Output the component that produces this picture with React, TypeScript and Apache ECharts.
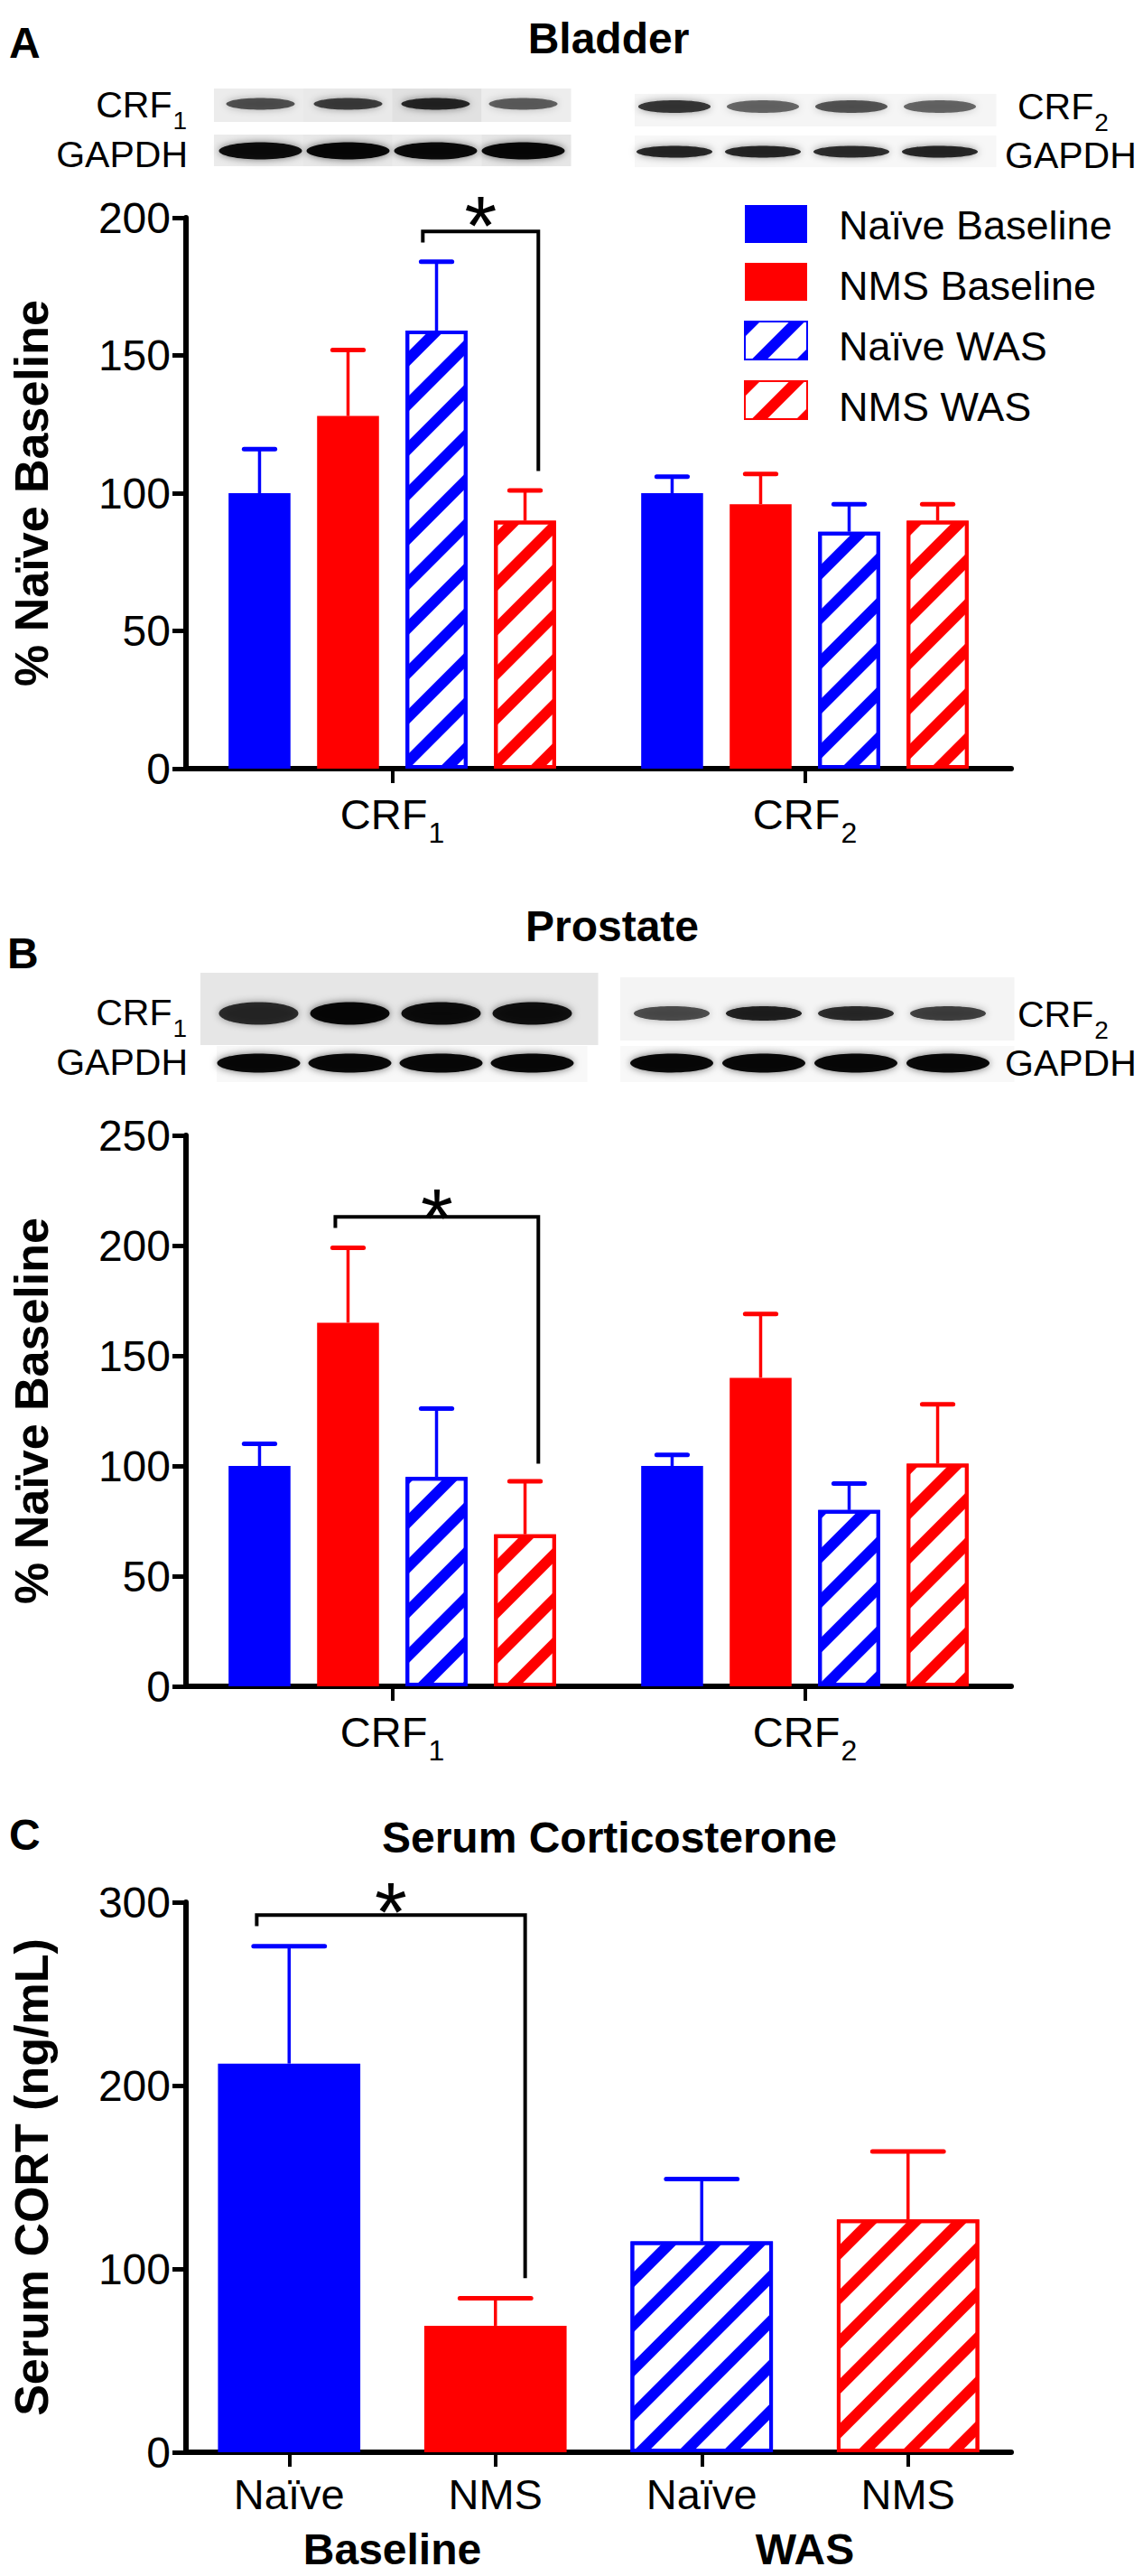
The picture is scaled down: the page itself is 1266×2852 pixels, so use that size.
import React, { useEffect, useRef } from "react";
import * as echarts from "echarts";

const FONT = "'Liberation Sans', Arial, Helvetica, sans-serif";
const BLUE = "#0000ff";
const RED = "#ff0000";

// ---------- data ----------
const groupNames = ["Naïve Baseline", "NMS Baseline", "Naïve WAS", "NMS WAS"];
const receptorCategories = ["CRF1", "CRF2"];

const bladderNaiveBaseline = [100, 100];
const bladderNmsBaseline = [128, 96];
const bladderNaiveWas = [159, 86];
const bladderNmsWas = [90, 90];
const bladderNaiveBaselineErr = [16, 6];
const bladderNmsBaselineErr = [24, 11];
const bladderNaiveWasErr = [25, 10];
const bladderNmsWasErr = [11, 6];

const prostateNaiveBaseline = [100, 100];
const prostateNmsBaseline = [165, 140];
const prostateNaiveWas = [95, 80];
const prostateNmsWas = [69, 101];
const prostateNaiveBaselineErr = [10, 5];
const prostateNmsBaselineErr = [34, 29];
const prostateNaiveWasErr = [31, 12];
const prostateNmsWasErr = [24, 27];

const serumCategories = ["Naïve", "NMS", "Naïve", "NMS"];
const serumGroups = ["Baseline", "WAS"];
const serumMean = [212, 69, 115, 127];
const serumErr = [64, 15, 34, 37];

// axis ranges: [min, max, interval]
const bladderAxis = [0, 200, 50];
const prostateAxis = [0, 250, 50];
const serumAxis = [0, 300, 100];

// significance brackets: [left x, right x (category units from first category), top, left end, right end, star]
const bladderBracket = [0.074, 0.354, 195, 191, 108, 204];
const prostateBracket = [-0.138, 0.354, 213, 208, 101, 221];
const serumBracket = [-0.157, 1.144, 293, 287, 95, 305];

// western blot band intensities (lanes: Naïve Baseline, NMS Baseline, Naïve WAS, NMS WAS)
const bladderCrf1Bands = [0.62, 0.72, 0.85, 0.55];
const bladderGapdhLeftBands = [0.95, 1, 0.97, 1];
const bladderCrf2Bands = [0.78, 0.5, 0.6, 0.5];
const bladderGapdhRightBands = [0.85, 0.85, 0.8, 0.85];
const prostateCrf1Bands = [0.8, 1, 0.95, 0.92];
const prostateGapdhLeftBands = [1, 1, 1, 1];
const prostateCrf2Bands = [0.65, 0.9, 0.8, 0.7];
const prostateGapdhRightBands = [1, 1, 1, 1];

// ---------- styles ----------
const groupColors = [BLUE, RED, BLUE, RED];
const hatchDecal = (c: string) => ({
  symbol: "rect",
  symbolSize: 1,
  dashArrayX: [1, 0],
  dashArrayY: [12, 23],
  rotation: -Math.PI / 4,
  color: c,
});
const solidStyle = (c: string) => ({ color: c });
const hatchStyle = (c: string) => ({
  color: "#ffffff",
  borderColor: c,
  borderWidth: 4,
  decal: hatchDecal(c),
});
const groupStyles = [solidStyle(BLUE), solidStyle(RED), hatchStyle(BLUE), hatchStyle(RED)];

const STAR = 92;

const subRich = (size: number, subSize: number, drop: number) => ({
  a: { fontSize: size, lineHeight: size + 3, verticalAlign: "top", fontFamily: FONT, color: "#000", fill: "#000" },
  b: {
    fontSize: subSize,
    lineHeight: subSize + 2,
    padding: [drop, 0, 0, 1],
    verticalAlign: "top",
    fontFamily: FONT,
    color: "#000",
    fill: "#000",
  },
});

function makeErrorSeries(
  axisIndex: number,
  means: number[][],
  errs: number[][],
  colorOf: (s: number, c: number) => string,
  barFrac: number,
  gapFrac: number
) {
  const n = means.length;
  const data: number[][] = [];
  means.forEach((arr, s) => arr.forEach((m, c) => data.push([c, s, m, m + errs[s][c]])));
  return {
    type: "custom",
    xAxisIndex: axisIndex,
    yAxisIndex: axisIndex,
    z: 4,
    silent: true,
    encode: { x: 0, y: [2, 3] },
    data,
    renderItem: (params: any, api: any) => {
      const c = api.value(0);
      const s = api.value(1);
      const m = api.value(2);
      const t = api.value(3);
      const p0 = api.coord([c, m]);
      const p1 = api.coord([c, t]);
      const band = api.size([1, 0])[0];
      const bw = band * barFrac;
      const x = p0[0] + (s - (n - 1) / 2) * bw * (1 + gapFrac);
      const col = colorOf(s, c);
      return {
        type: "group",
        children: [
          { type: "line", shape: { x1: x, y1: p0[1], x2: x, y2: p1[1] }, style: { stroke: col, lineWidth: 3.5 } },
          {
            type: "line",
            shape: { x1: x - bw / 4, y1: p1[1], x2: x + bw / 4, y2: p1[1] },
            style: { stroke: col, lineWidth: 5, lineCap: "round" },
          },
        ],
      };
    },
  };
}

function makeBracketSeries(axisIndex: number, br: number[]) {
  return {
    type: "custom",
    xAxisIndex: axisIndex,
    yAxisIndex: axisIndex,
    z: 4,
    silent: true,
    encode: { x: 0, y: 1 },
    data: [[0, br[2]]],
    renderItem: (params: any, api: any) => {
      const band = api.size([1, 0])[0];
      const top = api.coord([0, br[2]]);
      const cx = top[0];
      const yL = api.coord([0, br[3]])[1];
      const yR = api.coord([0, br[4]])[1];
      const yS = api.coord([0, br[5]])[1];
      const xl = cx + br[0] * band;
      const xr = cx + br[1] * band;
      return {
        type: "group",
        children: [
          {
            type: "polyline",
            shape: { points: [[xl, yL], [xl, top[1]], [xr, top[1]], [xr, yR]] },
            style: { stroke: "#000", lineWidth: 4, fill: "none" },
          },
          {
            type: "text",
            x: (xl + xr) / 2,
            y: yS + 0.23 * STAR,
            style: {
              text: "*",
              fontSize: STAR,
              fontFamily: FONT,
              fill: "#000",
              align: "center",
              verticalAlign: "middle",
            },
          },
        ],
      };
    },
  };
}

const lineStyle = { color: "#000", width: 6 };

function valueAxis(gridIndex: number, range: number[], name: string) {
  return {
    type: "value",
    gridIndex,
    min: range[0],
    max: range[1],
    interval: range[2],
    axisLine: { show: true, lineStyle },
    axisTick: { show: true, length: 15, lineStyle: { color: "#000", width: 5 } },
    axisLabel: { fontSize: 48, color: "#000", fontFamily: FONT, margin: 17 },
    splitLine: { show: false },
    name,
    nameLocation: "middle",
    nameGap: 145,
    nameTextStyle: { fontSize: 52, fontWeight: "bold", color: "#000", fontFamily: FONT },
  };
}

function receptorAxis(gridIndex: number) {
  return {
    type: "category",
    gridIndex,
    data: receptorCategories,
    axisLine: { show: true, lineStyle },
    axisTick: { show: true, alignWithLabel: true, length: 16, lineStyle: { color: "#000", width: 4 } },
    axisLabel: {
      margin: 27,
      formatter: (v: string) => `{a|${v.slice(0, 3)}}{b|${v.slice(3)}}`,
      rich: subRich(47, 32, 28),
    },
    splitLine: { show: false },
  };
}

function blotRow(
  x0: number,
  w: number,
  top: number,
  h: number,
  shades: string[],
  bandCy: number,
  bandH: number,
  rx: number,
  intensities: number[],
  laneX0: number,
  laneW: number
) {
  const els: any[] = [];
  shades.forEach((shade, i) => {
    const sw = w / shades.length;
    els.push({ type: "rect", shape: { x: x0 + i * sw, y: top, width: sw + 0.5, height: h }, style: { fill: shade }, silent: true });
  });
  intensities.forEach((v, i) => {
    const cx = laneX0 + (i + 0.5) * laneW;
    const g = Math.round(90 * (1 - v));
    els.push({
      type: "ellipse",
      shape: { cx, cy: bandCy, rx, ry: bandH / 2 },
      style: {
        fill: `rgba(${g},${g},${g},${0.4 + 0.55 * v})`,
        shadowBlur: 9,
        shadowColor: `rgba(0,0,0,${0.6 * v})`,
      },
      silent: true,
    });
  });
  return els;
}

function label(text: string, x: number, y: number, size: number, bold: boolean, align: string) {
  return {
    type: "text",
    x,
    y,
    silent: true,
    style: {
      text,
      fill: "#000",
      fontSize: size,
      fontWeight: bold ? "bold" : "normal",
      fontFamily: FONT,
      align,
      verticalAlign: "middle",
    },
  };
}

function subLabel(main: string, sub: string, x: number, capCy: number, align: string) {
  return {
    type: "text",
    x,
    y: capCy - 22,
    silent: true,
    style: {
      text: `{a|${main}}{b|${sub}}`,
      fill: "#000",
      fontFamily: FONT,
      align,
      verticalAlign: "top",
      rich: subRich(41, 28, 24),
    },
  };
}

export default function App() {
  const ref = useRef<HTMLDivElement>(null);

  useEffect(() => {
    document.body.style.margin = "0";
    if (!ref.current) return;
    const chart = echarts.init(ref.current, null, { renderer: "svg" });

    const bladderMeans = [bladderNaiveBaseline, bladderNmsBaseline, bladderNaiveWas, bladderNmsWas];
    const bladderErrs = [bladderNaiveBaselineErr, bladderNmsBaselineErr, bladderNaiveWasErr, bladderNmsWasErr];
    const prostateMeans = [prostateNaiveBaseline, prostateNmsBaseline, prostateNaiveWas, prostateNmsWas];
    const prostateErrs = [prostateNaiveBaselineErr, prostateNmsBaselineErr, prostateNaiveWasErr, prostateNmsWasErr];

    const BAR_FRAC = 0.15;
    const GAP_FRAC = 0.43;
    const SERUM_FRAC = 0.69;

    const groupedBars = (axisIndex: number, means: number[][]) =>
      groupNames.map((name, s) => ({
        type: "bar",
        name,
        xAxisIndex: axisIndex,
        yAxisIndex: axisIndex,
        data: means[s],
        barWidth: `${BAR_FRAC * 100}%`,
        barGap: `${GAP_FRAC * 100}%`,
        itemStyle: groupStyles[s],
        z: 2,
      }));

    const graphics: any[] = [
      label("A", 10, 47, 48, true, "left"),
      label("Bladder", 674, 42, 48, true, "center"),
      label("B", 8, 1055, 48, true, "left"),
      label("Prostate", 678, 1025, 48, true, "center"),
      label("C", 10, 2031, 48, true, "left"),
      label("Serum Corticosterone", 675, 2034, 48, true, "center"),
      // blots, panel A
      ...blotRow(237, 395, 98, 37, ["#ececec", "#e9e9e9", "#e1e1e1", "#ededed"], 115, 13, 38, bladderCrf1Bands, 240, 97),
      ...blotRow(237, 395, 149, 35, ["#ebebeb", "#e8e8e8", "#ececec", "#e6e6e6"], 167, 19, 46, bladderGapdhLeftBands, 240, 97),
      ...blotRow(703, 400, 104, 36, ["#f5f5f5"], 118, 14, 40, bladderCrf2Bands, 698, 98),
      ...blotRow(703, 400, 150, 35, ["#f7f7f7"], 168, 13, 42, bladderGapdhRightBands, 698, 98),
      // blots, panel B
      ...blotRow(222, 440, 1077, 80, ["#e6e6e6"], 1122, 25, 44, prostateCrf1Bands, 236, 101),
      ...blotRow(240, 410, 1158, 40, ["#f8f8f8"], 1177, 21, 46, prostateGapdhLeftBands, 236, 101),
      ...blotRow(687, 436, 1082, 70, ["#f4f4f4"], 1122, 16, 42, prostateCrf2Bands, 693, 102),
      ...blotRow(687, 436, 1158, 40, ["#f8f8f8"], 1177, 21, 46, prostateGapdhRightBands, 693, 102),
      // blot labels
      subLabel("CRF", "1", 207, 117, "right"),
      label("GAPDH", 208, 171, 41, false, "right"),
      subLabel("CRF", "2", 1127, 119, "left"),
      label("GAPDH", 1113, 172, 41, false, "left"),
      subLabel("CRF", "1", 207, 1122, "right"),
      label("GAPDH", 208, 1176, 41, false, "right"),
      subLabel("CRF", "2", 1127, 1124, "left"),
      label("GAPDH", 1113, 1177, 41, false, "left"),
    ];

    const legendCommon = {
      data: groupNames,
      top: 227,
      orient: "vertical",
      itemHeight: 42,
      itemGap: 22,
      padding: 0,
      selectedMode: false,
      textStyle: { fontSize: 45, color: "#000", fontFamily: FONT, lineHeight: 42 },
    };

    const option: any = {
      animation: false,
      backgroundColor: "#ffffff",
      textStyle: { fontFamily: FONT, color: "#000" },
      grid: [
        { left: 206, top: 241, width: 914, height: 610 },
        { left: 206, top: 1257, width: 914, height: 610 },
        { left: 206, top: 2106, width: 914, height: 609 },
      ],
      legend: [
        // swatches
        { ...legendCommon, left: 824, icon: "rect", itemWidth: 69, formatter: () => "" },
        // names
        { ...legendCommon, left: 924, icon: "none", itemWidth: 0 },
      ],
      xAxis: [
        receptorAxis(0),
        receptorAxis(1),
        {
          type: "category",
          gridIndex: 2,
          data: serumCategories.map((_, i) => String(i)),
          axisLine: { show: true, lineStyle },
          axisTick: { show: true, alignWithLabel: true, length: 16, lineStyle: { color: "#000", width: 4 } },
          axisLabel: {
            margin: 23,
            fontSize: 47,
            color: "#000",
            fontFamily: FONT,
            formatter: (_v: string, i: number) => serumCategories[i],
          },
          splitLine: { show: false },
        },
        {
          type: "category",
          gridIndex: 2,
          position: "bottom",
          data: serumGroups,
          axisLine: { show: false },
          axisTick: { show: false },
          axisLabel: { margin: 83, fontSize: 48, fontWeight: "bold", color: "#000", fontFamily: FONT },
          splitLine: { show: false },
        },
      ],
      yAxis: [
        valueAxis(0, bladderAxis, "% Naïve Baseline"),
        valueAxis(1, prostateAxis, "% Naïve Baseline"),
        valueAxis(2, serumAxis, "Serum CORT (ng/mL)"),
      ],
      series: [
        ...groupedBars(0, bladderMeans),
        ...groupedBars(1, prostateMeans),
        {
          type: "bar",
          name: "Serum CORT",
          xAxisIndex: 2,
          yAxisIndex: 2,
          barWidth: `${SERUM_FRAC * 100}%`,
          data: serumMean.map((v, i) => ({ value: v, itemStyle: groupStyles[i] })),
          z: 2,
        },
        makeErrorSeries(0, bladderMeans, bladderErrs, (s) => groupColors[s], BAR_FRAC, GAP_FRAC),
        makeErrorSeries(1, prostateMeans, prostateErrs, (s) => groupColors[s], BAR_FRAC, GAP_FRAC),
        makeErrorSeries(2, [serumMean], [serumErr], (_s, c) => groupColors[c], SERUM_FRAC, 0),
        makeBracketSeries(0, bladderBracket),
        makeBracketSeries(1, prostateBracket),
        makeBracketSeries(2, serumBracket),
      ],
      graphic: graphics,
    };

    chart.setOption(option);
    return () => chart.dispose();
  }, []);

  return <div ref={ref} style={{ width: 1266, height: 2852 }} />;
}
